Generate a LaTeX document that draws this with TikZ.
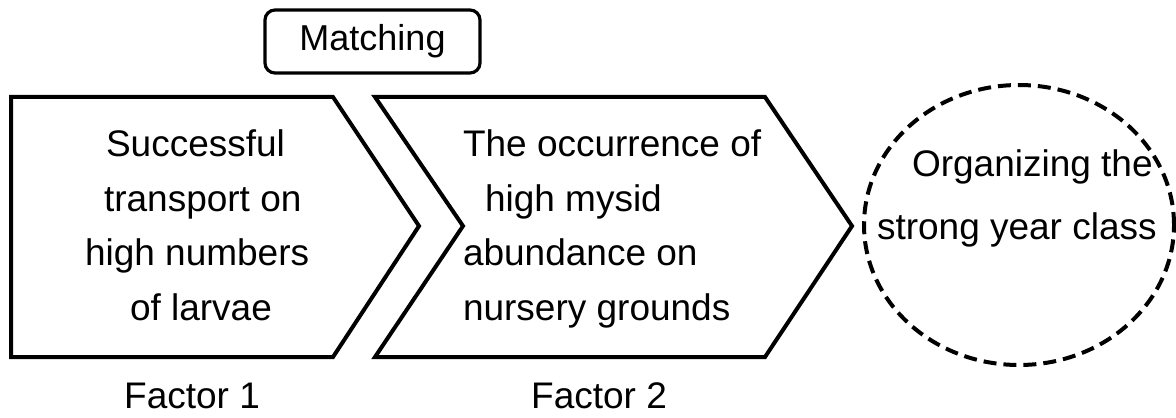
\documentclass[tikz,border=0pt]{standalone}
\usepackage{fontspec}
\setmainfont{Liberation Sans}
\tikzset{
  shapeline/.style={line width=2pt, line join=miter},
  txt/.style={inner sep=0pt, outer sep=0pt, font=\fontsize{18.5pt}{27.25pt}\selectfont},
  boxtxt/.style={txt, align=left, anchor=north west},
  tagbox/.style={draw, line width=1.6pt, rounded corners=5pt, inner sep=0pt,
    minimum width=107.5pt, minimum height=31.5pt,
    font=\fontsize{18pt}{22pt}\selectfont},
  dashring/.style={draw, line width=2pt, dash pattern=on 6.5pt off 3.5pt}
}
\begin{document}
\begin{tikzpicture}[x=0.5pt,y=-0.5pt]
\useasboundingbox (0,0) rectangle (1176,417);
% Factor 1 pentagon
\draw[shapeline] (11,97) -- (333,97) -- (419,226) -- (333,357) -- (11,357) -- cycle;
% Factor 2 chevron
\draw[shapeline] (375,97) -- (765,97) -- (852,226) -- (765,357) -- (375,357) -- (463,226) -- cycle;
% result ellipse
\draw[dashring] (1019,225) ellipse [x radius=77.5pt, y radius=70pt];
% Matching box
\node[tagbox] (match) at (372.5,41.5) {Matching};
% texts
\node[boxtxt] (f1text) at (85,130) {\hspace*{10.5pt}Successful\\\hspace*{9.5pt}transport on\\high numbers\\\hspace*{22.5pt}of larvae};
\node[boxtxt] (f2text) at (463,130) {The occurrence of\\\hspace*{11pt}high mysid\\abundance on\\nursery grounds};
\node[txt, align=left, anchor=north west] (restext) at (877,150) {\hspace*{17.5pt}Organizing the\\[4pt]strong year class};
\node[txt, anchor=base] (f1lab) at (192,408) {Factor 1};
\node[txt, anchor=base] (f2lab) at (599,408) {Factor 2};
\end{tikzpicture}
\end{document}
